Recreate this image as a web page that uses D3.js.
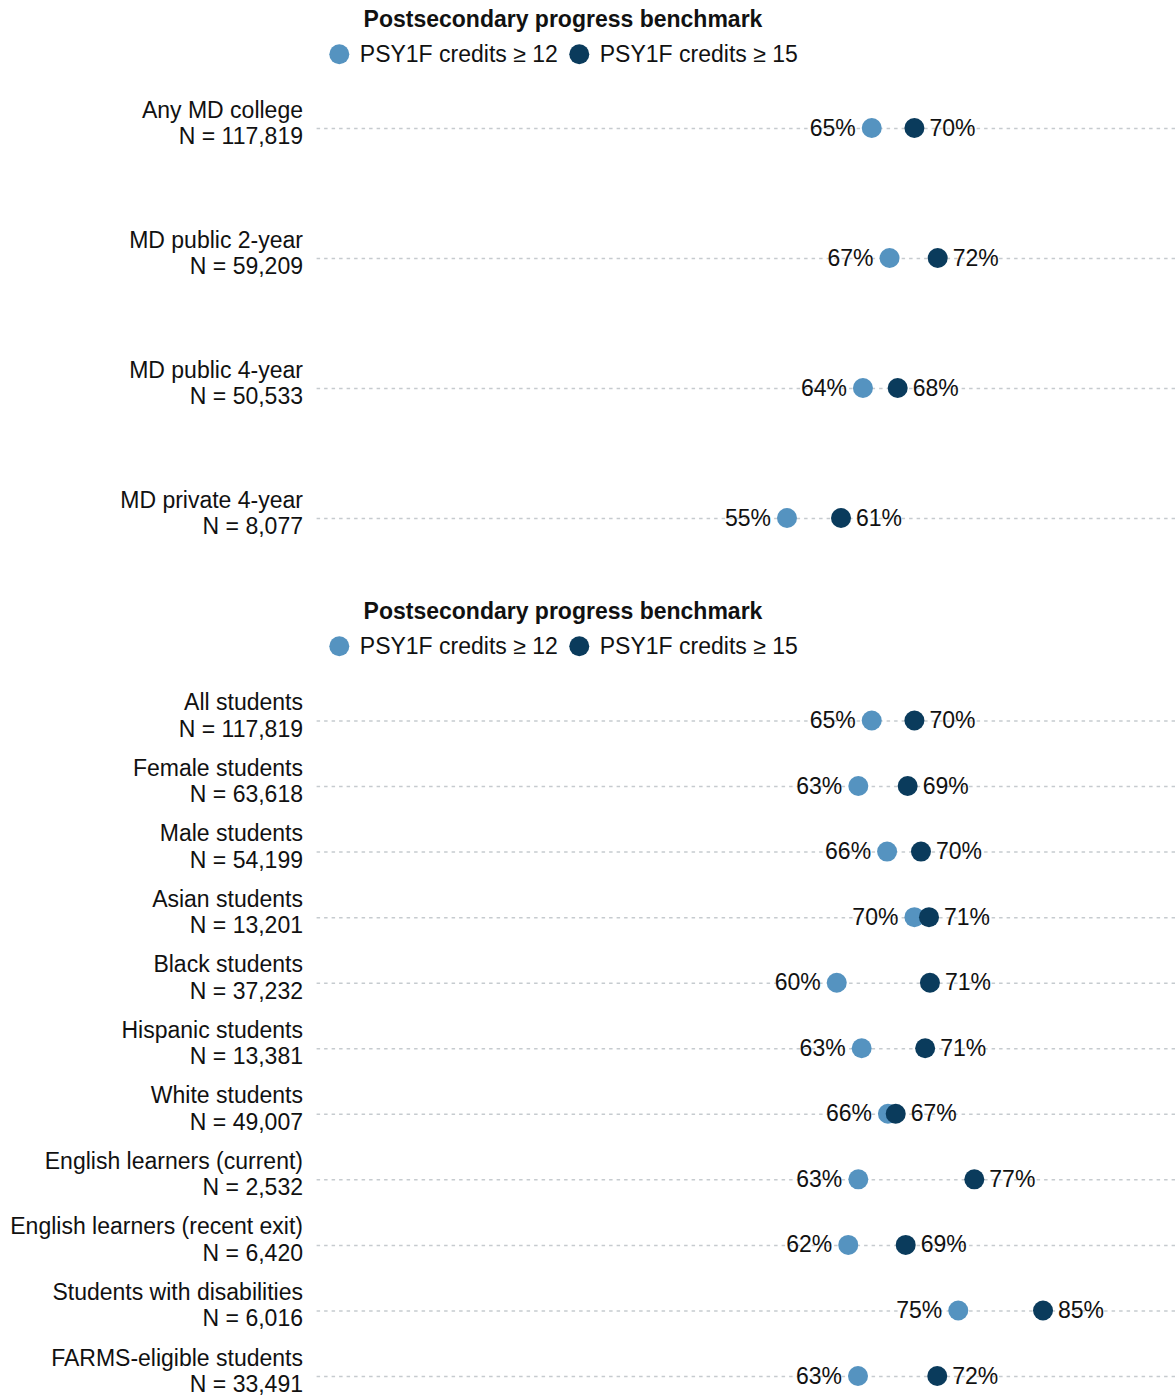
<!DOCTYPE html>
<html>
<head>
<meta charset="utf-8">
<script src="https://cdn.jsdelivr.net/npm/d3@7"></script>
<style>
  html, body { margin: 0; padding: 0; background: #ffffff; }
  svg text { font-family: "Liberation Sans", Arial, Helvetica, sans-serif; fill: #111111; }
</style>
</head>
<body>
<svg id="chart" width="1175" height="1397"></svg>
<script>
// ---------- DATA ----------
const chartTitle = "Postsecondary progress benchmark";
const seriesNames = ["PSY1F credits \u2265 12", "PSY1F credits \u2265 15"];

const collegeCategories = ["Any MD college", "MD public 2-year", "MD public 4-year", "MD private 4-year"];
const collegeN = ["117,819", "59,209", "50,533", "8,077"];
const collegeCredits12 = [65.05, 67.14, 64.02, 55.12];
const collegeCredits15 = [70.05, 72.78, 68.09, 61.45];

const groupCategories = ["All students", "Female students", "Male students", "Asian students",
  "Black students", "Hispanic students", "White students", "English learners (current)",
  "English learners (recent exit)", "Students with disabilities", "FARMS-eligible students"];
const groupN = ["117,819", "63,618", "54,199", "13,201", "37,232", "13,381", "49,007",
  "2,532", "6,420", "6,016", "33,491"];
const groupCredits12 = [65.05, 63.48, 66.85, 70.05, 60.95, 63.87, 66.95, 63.48, 62.30, 75.19, 63.44];
const groupCredits15 = [70.05, 69.26, 70.82, 71.76, 71.87, 71.31, 67.86, 77.07, 69.03, 85.12, 72.73];

// ---------- STYLE ----------
const colors = ["#5593c0", "#0a3b5c"];
const fontSize = 23;
const dotR = 10;
const W = 1175;

const svg = d3.select("#chart");
const x = d3.scaleLinear().domain([0, 100]).range([316.6, 1170]);
const fmt = v => Math.floor(v) + "%";

function drawPanel(g, top, cats, ns, v12, v15, firstRow, lastRow) {
  // Title
  g.append("text")
    .attr("x", 563).attr("y", top + 26.5)
    .attr("text-anchor", "middle")
    .attr("font-size", fontSize).attr("font-weight", "bold")
    .text(chartTitle);

  // Legend
  const leg = g.append("g");
  let cx = 339.3;
  seriesNames.forEach((name, i) => {
    leg.append("circle").attr("cx", cx).attr("cy", top + 54.3).attr("r", dotR).attr("fill", colors[i]);
    const t = leg.append("text").attr("x", cx + 20.5).attr("y", top + 62.3)
      .attr("font-size", fontSize).text(name);
    const w = t.node().getComputedTextLength();
    cx = cx + 20.5 + w + 21.5;
  });

  const y = d3.scalePoint().domain(cats).range([firstRow, lastRow]);

  // Grid lines
  g.append("g").selectAll("line").data(cats).join("line")
    .attr("x1", x(0)).attr("x2", W)
    .attr("y1", d => y(d) + 0.5).attr("y2", d => y(d) + 0.5)
    .attr("stroke", "#c6cbcf").attr("stroke-width", 1.5)
    .attr("stroke-dasharray", "3.5,4");

  // Category labels
  const lab = g.append("g").selectAll("g").data(cats).join("g");
  lab.append("text")
    .attr("x", 303).attr("y", d => y(d) - 10.5)
    .attr("text-anchor", "end").attr("font-size", fontSize)
    .text(d => d);
  lab.append("text")
    .attr("x", 303).attr("y", (d, i) => y(d) + 16)
    .attr("text-anchor", "end").attr("font-size", fontSize)
    .text((d, i) => "N = " + ns[i]);

  // Dots: light first, dark on top
  [v12, v15].forEach((vals, s) => {
    g.append("g").selectAll("circle").data(cats).join("circle")
      .attr("cx", (d, i) => x(vals[i]))
      .attr("cy", d => y(d))
      .attr("r", dotR)
      .attr("fill", colors[s]);
  });

  // Value labels
  g.append("g").selectAll("text").data(cats).join("text")
    .attr("x", (d, i) => x(v12[i]) - 16)
    .attr("y", d => y(d) + 7.5)
    .attr("text-anchor", "end").attr("font-size", fontSize)
    .text((d, i) => fmt(v12[i]));
  g.append("g").selectAll("text").data(cats).join("text")
    .attr("x", (d, i) => x(v15[i]) + 15)
    .attr("y", d => y(d) + 7.5)
    .attr("text-anchor", "start").attr("font-size", fontSize)
    .text((d, i) => fmt(v15[i]));
}

drawPanel(svg.append("g"), 0, collegeCategories, collegeN, collegeCredits12, collegeCredits15, 128, 518);
drawPanel(svg.append("g"), 592, groupCategories, groupN, groupCredits12, groupCredits15, 720.5, 1376);
</script>
</body>
</html>
